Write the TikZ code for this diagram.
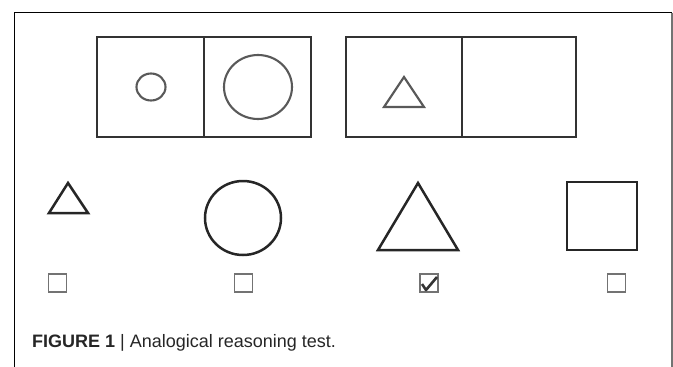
\documentclass[tikz,border=0pt]{standalone}
\usepackage{fontspec}
\setmainfont{Liberation Sans}
\begin{document}
\begin{tikzpicture}[x=1pt,y=-1pt,
  panel/.style={draw=black!80, line width=2.6pt},
  inner/.style={draw=black!65, line width=2.1pt},
  answer/.style={draw=black!85, line width=2.5pt, line join=miter},
  cbox/.style={draw=black!55, line width=1.3pt},
  tick/.style={draw=black!80, line width=2.6pt, line join=round}]
\useasboundingbox (0,0) rectangle (673,367);
% outer frame
\draw[black, line width=1.4pt] (14.5,367) -- (14.5,12.5) -- (671.5,12.5);
\draw[black!55, line width=2pt] (671.5,12.5) -- (671.5,367);
% top panels
\draw[panel] (97,37) rectangle (311,137);
\draw[panel] (204,37) -- (204,137);
\draw[panel] (346,37) rectangle (576,137);
\draw[panel] (462,37) -- (462,137);
\draw[inner] (151,87) ellipse [x radius=14.5, y radius=13.5];
\draw[inner] (258,87) ellipse [x radius=34, y radius=32];
\draw[inner, line join=miter] (404,77) -- (384,107) -- (424,107) -- cycle;
% answer options
\draw[answer] (68,183) -- (49,213) -- (88,213) -- cycle;
\draw[answer] (243,218) ellipse [x radius=38, y radius=37];
\draw[answer] (418,183) -- (378,250) -- (458,250) -- cycle;
\draw[answer] (567,182) rectangle (637,250);
% checkboxes
\foreach \cx in {57.5,243.5,429,616.5}
  \draw[cbox] (\cx-9,274) rectangle (\cx+9,292);
\draw[tick] (422,284) -- (426,290) -- (437,277);
% caption
\node[anchor=base west, inner sep=0pt, text=black!85, font=\fontsize{18}{20}\selectfont] (cap) at (32,347)
  {\textbf{FIGURE 1} | Analogical reasoning test.};
\end{tikzpicture}
\end{document}
